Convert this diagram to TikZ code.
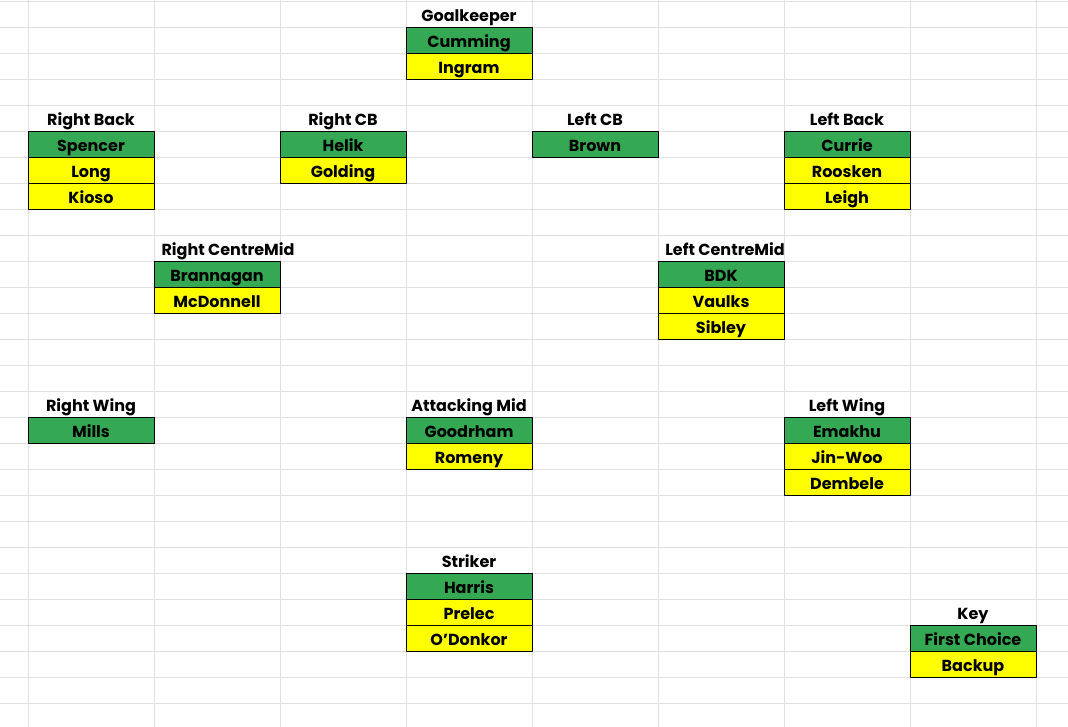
\documentclass[tikz,border=0pt]{standalone}
\usepackage{fontspec}
\setmainfont{Poppins}
\usetikzlibrary{positioning}
\definecolor{firstgreen}{HTML}{34A853}
\definecolor{backupyellow}{HTML}{FFFF00}
\definecolor{gridgray}{HTML}{E1E1E1}
\begin{document}
\begin{tikzpicture}[x=1pt, y=-1pt, line cap=round, line join=round,
		title/.style={minimum width=126pt, minimum height=26pt, inner sep=0pt, outer sep=0pt, text height=14pt, text depth=0pt, font=\bfseries\fontsize{16}{19}\selectfont},
		cell/.style={title, draw=black, line width=0.9pt},
		first/.style={cell, fill=firstgreen},
		backup/.style={cell, fill=backupyellow}]
	\useasboundingbox (0, 0) rectangle (1068, 727);
	% Sheet grid
	\foreach \j in {0, ..., 8}
		\draw [gridgray, line width=0.9pt] (28 + 126 * \j, 0) -- (28 + 126 * \j, 727);
	\foreach \k in {0, ..., 27}
		\draw [gridgray, line width=0.9pt] (0, 1.3 + 26 * \k) -- (1068, 1.3 + 26 * \k);
	% Goalkeeper
	\node [title] (gk) at (469, 14.3) {Goalkeeper};
	\node [first, below=0pt of gk] (gk-1) {Cumming};
	\node [backup, below=0pt of gk-1] (gk-2) {Ingram};
	% Defence
	\node [title] (rb) at (91, 118.3) {Right Back};
	\node [first, below=0pt of rb] (rb-1) {Spencer};
	\node [backup, below=0pt of rb-1] (rb-2) {Long};
	\node [backup, below=0pt of rb-2] (rb-3) {Kioso};
	\node [title] (rcb) at (343, 118.3) {Right CB};
	\node [first, below=0pt of rcb] (rcb-1) {Helik};
	\node [backup, below=0pt of rcb-1] (rcb-2) {Golding};
	\node [title] (lcb) at (595, 118.3) {Left CB};
	\node [first, below=0pt of lcb] (lcb-1) {Brown};
	\node [title] (lb) at (847, 118.3) {Left Back};
	\node [first, below=0pt of lb] (lb-1) {Currie};
	\node [backup, below=0pt of lb-1] (lb-2) {Roosken};
	\node [backup, below=0pt of lb-2] (lb-3) {Leigh};
	% Centre midfield (titles run over their cells)
	\node [title] (rcm) at (228, 248.3) {Right CentreMid};
	\node [first, below=0pt of rcm, xshift=-11pt] (rcm-1) {Brannagan};
	\node [backup, below=0pt of rcm-1] (rcm-2) {McDonnell};
	\node [title] (lcm) at (725, 248.3) {Left CentreMid};
	\node [first, below=0pt of lcm, xshift=-4pt] (lcm-1) {BDK};
	\node [backup, below=0pt of lcm-1] (lcm-2) {Vaulks};
	\node [backup, below=0pt of lcm-2] (lcm-3) {Sibley};
	% Attack
	\node [title] (rw) at (91, 404.3) {Right Wing};
	\node [first, below=0pt of rw] (rw-1) {Mills};
	\node [title] (am) at (469, 404.3) {Attacking Mid};
	\node [first, below=0pt of am] (am-1) {Goodrham};
	\node [backup, below=0pt of am-1] (am-2) {Romeny};
	\node [title] (lw) at (847, 404.3) {Left Wing};
	\node [first, below=0pt of lw] (lw-1) {Emakhu};
	\node [backup, below=0pt of lw-1] (lw-2) {Jin-Woo};
	\node [backup, below=0pt of lw-2] (lw-3) {Dembele};
	\node [title] (st) at (469, 560.3) {Striker};
	\node [first, below=0pt of st] (st-1) {Harris};
	\node [backup, below=0pt of st-1] (st-2) {Prelec};
	\node [backup, below=0pt of st-2] (st-3) {O’Donkor};
	% Key
	\node [title] (key) at (973, 612.3) {Key};
	\node [first, below=0pt of key] (key-1) {First Choice};
	\node [backup, below=0pt of key-1] (key-2) {Backup};
\end{tikzpicture}
\end{document}
